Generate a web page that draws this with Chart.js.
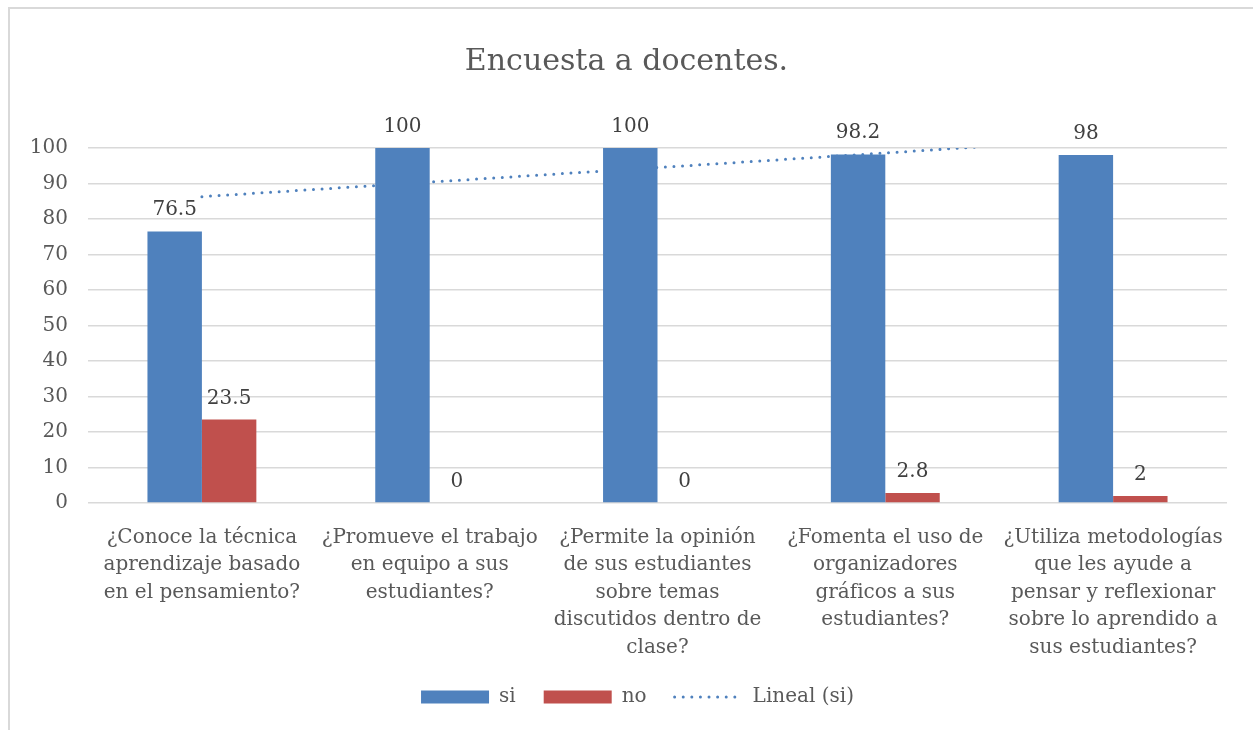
<!DOCTYPE html>
<html lang="es">
<head>
<meta charset="utf-8">
<title>Encuesta a docentes.</title>
<script src="https://cdn.jsdelivr.net/npm/chart.js@4.4.1/dist/chart.umd.min.js"></script>
<style>
    html, body { margin: 0; padding: 0; background: #ffffff; overflow: hidden; }
    #marco { position: absolute; left: 8px; top: 7px; width: 1300px; height: 800px; border: 2px solid #d9d9d9; box-sizing: border-box; }
    #contenedor { position: absolute; left: 0; top: 0; width: 1253px; height: 730px; }
</style>
</head>
<body>
<div id="marco"></div>
<div id="contenedor"><canvas id="grafico"></canvas></div>
<script>
    // Datos
    const preguntas = [
        ["¿Conoce la técnica", "aprendizaje basado", "en el pensamiento?"],
        ["¿Promueve el trabajo", "en equipo a sus", "estudiantes?"],
        ["¿Permite la opinión", "de sus estudiantes", "sobre temas", "discutidos dentro de", "clase?"],
        ["¿Fomenta el uso de", "organizadores", "gráficos a sus", "estudiantes?"],
        ["¿Utiliza metodologías", "que les ayude a", "pensar y reflexionar", "sobre lo aprendido a", "sus estudiantes?"]
    ];
    const si = [76.5, 100, 100, 98.2, 98];
    const no = [23.5, 0, 0, 2.8, 2];
    // línea de tendencia "Lineal (si)", valores estimados en cada categoría
    const tendenciaSi = [86.3, 90.4, 94.5, 98.6, 102.8];

    const fuente = "'DejaVu Serif', 'Liberation Serif', serif";
    const gris = "#595959";
    const puntos = [0, 8.6]; // trazo punteado de la tendencia

    // Etiquetas de valor encima de las barras
    const etiquetasValor = {
        id: "etiquetasValor",
        afterDatasetsDraw(chart) {
            const ctx = chart.ctx;
            ctx.save();
            ctx.font = "20px " + fuente;
            ctx.fillStyle = "#404040";
            ctx.textAlign = "center";
            ctx.textBaseline = "alphabetic";
            chart.data.datasets.forEach((ds, i) => {
                if (ds.type === "line") return;
                chart.getDatasetMeta(i).data.forEach((bar, j) => {
                    ctx.fillText(String(ds.data[j]), bar.x, bar.y - 16);
                });
            });
            ctx.restore();
        }
    };

    // Desplaza la leyenda un poco a la derecha como en el original
    const moverLeyenda = {
        id: "moverLeyenda",
        afterLayout(chart) {
            if (chart.legend) {
                chart.legend.left += 11;
                chart.legend.right += 11;
            }
        }
    };

    const ctx = document.getElementById("grafico").getContext("2d");
    new Chart(ctx, {
        type: "bar",
        data: {
            labels: preguntas,
            datasets: [
                {
                    label: "si",
                    data: si,
                    backgroundColor: "#4F81BD",
                    borderWidth: 0,
                    pointStyle: "rect"
                },
                {
                    label: "no",
                    data: no,
                    backgroundColor: "#C0504D",
                    borderWidth: 0,
                    pointStyle: "rect"
                },
                {
                    type: "line",
                    label: "Lineal (si)",
                    data: tendenciaSi,
                    borderColor: "#4F81BD",
                    backgroundColor: "transparent",
                    borderWidth: 3,
                    borderDash: puntos,
                    borderCapStyle: "round",
                    pointRadius: 0,
                    pointHoverRadius: 0,
                    pointStyle: "line",
                    tension: 0,
                    fill: false,
                    clip: 0
                }
            ]
        },
        options: {
            responsive: true,
            maintainAspectRatio: false,
            animation: false,
            layout: { padding: { left: 0, right: 0, top: 0, bottom: 13 } },
            datasets: {
                bar: { categoryPercentage: 0.478, barPercentage: 1 }
            },
            plugins: {
                title: {
                    display: true,
                    text: "Encuesta a docentes.",
                    color: gris,
                    font: { family: fuente, size: 30, weight: "normal", lineHeight: 1.2 },
                    padding: { top: 44, bottom: 68 }
                },
                legend: {
                    display: true,
                    position: "bottom",
                    labels: {
                        usePointStyle: true,
                        pointStyleWidth: 68,
                        boxHeight: 13,
                        padding: 28,
                        color: gris,
                        font: { family: fuente, size: 20 },
                        generateLabels(chart) {
                            const items = Chart.defaults.plugins.legend.labels.generateLabels(chart);
                            items.forEach(item => {
                                const ds = chart.data.datasets[item.datasetIndex];
                                if (ds.type === "line") {
                                    item.pointStyle = "line";
                                    item.strokeStyle = ds.borderColor;
                                    item.fillStyle = "transparent";
                                    item.lineWidth = 3;
                                    item.lineDash = puntos;
                                    item.lineCap = "round";
                                } else {
                                    item.pointStyle = "rect";
                                    item.lineWidth = 0;
                                }
                            });
                            return items;
                        }
                    }
                },
                tooltip: { enabled: false }
            },
            scales: {
                x: {
                    grid: { display: false },
                    border: { display: false },
                    ticks: {
                        color: gris,
                        padding: 13,
                        maxRotation: 0,
                        autoSkip: false,
                        font: { family: fuente, size: 20, lineHeight: 1.375 }
                    },
                    afterFit(scale) { scale.height = 156; }
                },
                y: {
                    min: 0,
                    max: 100,
                    border: { display: false },
                    grid: { color: "#d9d9d9", lineWidth: 1.5, drawTicks: false },
                    ticks: {
                        stepSize: 10,
                        color: gris,
                        padding: 20,
                        font: { family: fuente, size: 20 }
                    },
                    afterFit(scale) { scale.width = 88; }
                },
                derecha: {
                    position: "right",
                    display: true,
                    grid: { display: false },
                    border: { display: false },
                    ticks: { display: false },
                    afterFit(scale) { scale.width = 26; }
                }
            }
        },
        plugins: [etiquetasValor, moverLeyenda]
    });
</script>
</body>
</html>
